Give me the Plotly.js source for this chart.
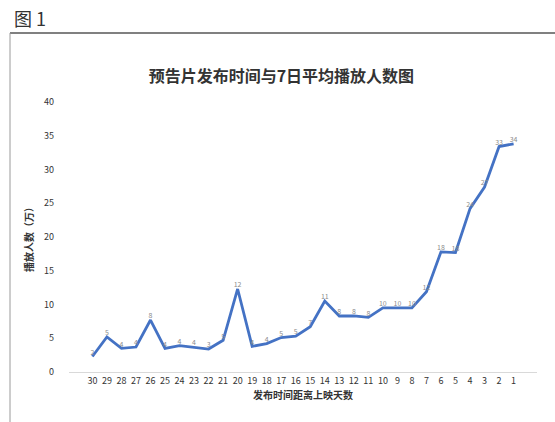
<!DOCTYPE html>
<html>
<head>
<meta charset="utf-8">
<script src="https://cdn.plot.ly/plotly-3.0.1.min.js"></script>
<style>
html,body{margin:0;padding:0;background:#fff;}
#chart{width:555px;height:422px;}
</style>
</head>
<body>
<div id="chart"></div>
<script>
// Days between trailer release and premiere
var days = ["30","29","28","27","26","25","24","23","22","21","20","19","18","17","16","15","14","13","12","11","10","9","8","7","6","5","4","3","2","1"];
// 7-day average viewers (10k)
var viewers = [2.3,5.2,3.5,3.7,7.7,3.5,3.9,3.7,3.4,4.7,12.3,3.8,4.2,5.1,5.3,6.7,10.5,8.3,8.3,8.1,9.5,9.5,9.5,11.9,17.8,17.7,24.2,27.4,33.4,33.8];
var yTicks = [0,5,10,15,20,25,30,35,40];

var cjk = '"Noto Sans CJK SC", "Noto Sans", sans-serif';

var trace = {
  x: days,
  y: viewers,
  type: 'scatter',
  mode: 'lines+text',
  line: {color: '#4472C4', width: 2.8},
  text: viewers.map(function(v){return Math.round(v).toString();}),
  textposition: 'top center',
  textfont: {family: cjk, size: 7, color: '#8c8c8c'},
  hoverinfo: 'x+y'
};

var layout = {
  width: 555,
  height: 422,
  margin: {l: 69, r: 18, t: 102, b: 50},
  paper_bgcolor: '#ffffff',
  plot_bgcolor: '#ffffff',
  showlegend: false,
  font: {family: cjk},
  title: {
    text: '<b>预告片发布时间与7日平均播放人数图</b>',
    font: {family: cjk, size: 16, color: '#333333'},
    x: 0.507, xanchor: 'center',
    y: 0.82, yanchor: 'middle'
  },
  xaxis: {
    type: 'category',
    tickvals: days,
    ticktext: days,
    showgrid: false,
    showline: true,
    linecolor: '#d9d9d9',
    linewidth: 1,
    ticks: '',
    tickfont: {family: cjk, size: 9, color: '#333333'},
    title: {text: '<b>发布时间距离上映天数</b>', font: {family: cjk, size: 10, color: '#333333'}, standoff: 4},
    zeroline: false
  },
  yaxis: {
    range: [0, 40],
    tickvals: yTicks,
    ticktext: yTicks.map(String),
    showgrid: false,
    zeroline: false,
    showline: false,
    ticks: '',
    tickfont: {family: cjk, size: 9, color: '#333333'},
    ticklabelstandoff: 14,
    title: {text: '<b>播放人数（万）</b>', font: {family: cjk, size: 10, color: '#333333'}, standoff: 8}
  },
  annotations: [{
    text: '图 1',
    xref: 'paper', yref: 'paper',
    x: (12 - 69) / 468, y: (372 - 18) / 270,
    xanchor: 'left', yanchor: 'middle',
    showarrow: false,
    font: {family: cjk, size: 18, color: '#333333'}
  }],
  shapes: [
    {type: 'line', xref: 'paper', yref: 'paper',
     x0: (10 - 69) / 468, x1: (555 - 69) / 468,
     y0: (372 - 33) / 270, y1: (372 - 33) / 270,
     line: {color: '#808080', width: 2}},
    {type: 'line', xref: 'paper', yref: 'paper',
     x0: (10 - 69) / 468, x1: (10 - 69) / 468,
     y0: (372 - 33) / 270, y1: (372 - 430) / 270,
     line: {color: '#9a9a9a', width: 1}}
  ]
};

Plotly.newPlot('chart', [trace], layout, {displayModeBar: false, staticPlot: true});
</script>
</body>
</html>
